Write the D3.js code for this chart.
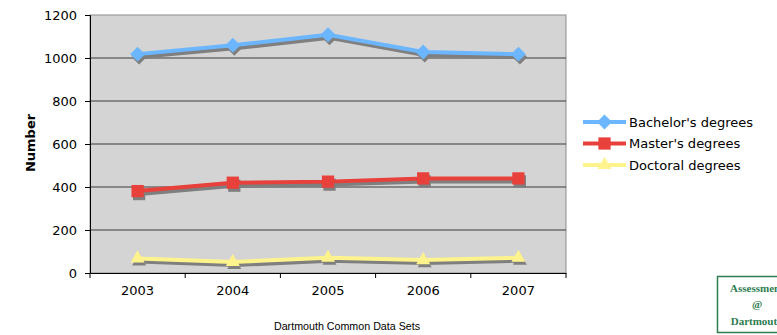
<!DOCTYPE html>
<html>
<head>
<meta charset="utf-8">
<script src="https://cdn.jsdelivr.net/npm/d3@7"></script>
<style>
  html, body { margin: 0; padding: 0; background: #fff; }
  svg { display: block; }
</style>
</head>
<body>
<svg id="chart" width="777" height="335"></svg>
<script>
// Degrees awarded per year
const years = ["2003", "2004", "2005", "2006", "2007"];
const bachelors = [1018, 1059, 1108, 1028, 1018];
const masters = [381, 420, 425, 440, 440];
const doctoral = [68, 51, 71, 60, 71];
const yTicks = [0, 200, 400, 600, 800, 1000, 1200];
const seriesNames = ["Bachelor's degrees", "Master's degrees", "Doctoral degrees"];

const svg = d3.select("#chart");
const plotLeft = 90, plotRight = 566, plotTop = 15, plotBottom = 273;

const x = d3.scaleBand().domain(years).range([plotLeft, plotRight]);
const y = d3.scaleLinear().domain([0, 1200]).range([plotBottom, plotTop]);

// Plot area
svg.append("rect")
  .attr("x", plotLeft).attr("y", plotTop)
  .attr("width", plotRight - plotLeft).attr("height", plotBottom - plotTop)
  .attr("fill", "#d4d4d4").attr("stroke", "#8c8c8c").attr("stroke-width", 1);

// Horizontal gridlines
svg.append("g").selectAll("line")
  .data(yTicks.filter(d => d > 0 && d < 1200))
  .join("line")
  .attr("x1", plotLeft).attr("x2", plotRight)
  .attr("y1", d => y(d)).attr("y2", d => y(d))
  .attr("stroke", "#3a3a3a").attr("stroke-width", 1);

// Y axis
const yAxis = svg.append("g")
  .attr("transform", `translate(${plotLeft},0)`)
  .call(d3.axisLeft(y).tickValues(yTicks).tickSize(5).tickPadding(8).tickFormat(d3.format("d")));
yAxis.select(".domain").attr("stroke", "#000");
yAxis.selectAll(".tick line").attr("stroke", "#000");
yAxis.selectAll("text")
  .attr("font-family", "Verdana, 'DejaVu Sans', sans-serif")
  .attr("font-size", 13).attr("fill", "#000");

// X axis with ticks between categories
const xAxis = svg.append("g")
  .attr("transform", `translate(0,${plotBottom})`)
  .call(d3.axisBottom(x).tickSize(0).tickPadding(13));
xAxis.select(".domain").attr("stroke", "#000");
xAxis.selectAll("text")
  .attr("font-family", "Verdana, 'DejaVu Sans', sans-serif")
  .attr("font-size", 13).attr("fill", "#000");
const edges = years.map(d => x(d)).concat([x(years[years.length - 1]) + x.bandwidth()]);
svg.append("g").selectAll("line")
  .data(edges)
  .join("line")
  .attr("x1", d => d).attr("x2", d => d)
  .attr("y1", plotBottom).attr("y2", plotBottom + 5)
  .attr("stroke", "#000");

// Axis title
svg.append("text")
  .attr("transform", "translate(35,143) rotate(-90)")
  .attr("text-anchor", "middle")
  .attr("font-family", "Verdana, 'DejaVu Sans', sans-serif")
  .attr("font-size", 13).attr("font-weight", "bold")
  .text("Number");

// Square diamond marker (a square turned 45 degrees)
const squareDiamond = {
  draw(context, size) {
    const r = Math.sqrt(size / 2);
    context.moveTo(0, -r);
    context.lineTo(r, 0);
    context.lineTo(0, r);
    context.lineTo(-r, 0);
    context.closePath();
  }
};

const series = [
  { name: seriesNames[0], values: bachelors, color: "#6cb6ff", shape: squareDiamond, size: 112 },
  { name: seriesNames[1], values: masters, color: "#e8403a", shape: d3.symbolSquare, size: 150 },
  { name: seriesNames[2], values: doctoral, color: "#fff38e", shape: d3.symbolTriangle, size: 85 }
];

const line = d3.line()
  .x((d, i) => x(years[i]) + x.bandwidth() / 2)
  .y(d => y(d));

// Drop shadows first
series.forEach(s => {
  const g = svg.append("g").attr("transform", "translate(1.5,3)");
  g.append("path").datum(s.values)
    .attr("d", line).attr("fill", "none")
    .attr("stroke", "#7f7f7f").attr("stroke-width", 4).attr("stroke-linejoin", "round");
  g.selectAll("path.m").data(s.values).join("path")
    .attr("class", "m")
    .attr("transform", (d, i) => `translate(${x(years[i]) + x.bandwidth() / 2},${y(d)})`)
    .attr("d", d3.symbol(s.shape, s.size)).attr("fill", "#7f7f7f");
});

// Series lines and markers
series.forEach(s => {
  const g = svg.append("g");
  g.append("path").datum(s.values)
    .attr("d", line).attr("fill", "none")
    .attr("stroke", s.color).attr("stroke-width", 4).attr("stroke-linejoin", "round");
  g.selectAll("path.m").data(s.values).join("path")
    .attr("class", "m")
    .attr("transform", (d, i) => `translate(${x(years[i]) + x.bandwidth() / 2},${y(d)})`)
    .attr("d", d3.symbol(s.shape, s.size)).attr("fill", s.color);
});

// Legend
const legend = svg.append("g");
series.forEach((s, i) => {
  const ly = 122 + i * 21.5;
  legend.append("line")
    .attr("x1", 583).attr("x2", 626).attr("y1", ly).attr("y2", ly)
    .attr("stroke", s.color).attr("stroke-width", 4);
  legend.append("path")
    .attr("transform", `translate(604.5,${ly})`)
    .attr("d", d3.symbol(s.shape, s.size)).attr("fill", s.color);
  legend.append("text")
    .attr("x", 629).attr("y", ly).attr("dy", "0.35em")
    .attr("font-family", "Verdana, 'DejaVu Sans', sans-serif")
    .attr("font-size", 13).attr("fill", "#000")
    .text(s.name);
});

// Source note
svg.append("text")
  .attr("x", 347).attr("y", 330)
  .attr("text-anchor", "middle")
  .attr("font-family", "Arial, 'Liberation Sans', sans-serif")
  .attr("font-size", 10.7).attr("fill", "#000")
  .text("Dartmouth Common Data Sets");

// Office badge (runs off the right edge of the page)
const badge = svg.append("g");
badge.append("rect")
  .attr("x", 717.5).attr("y", 276.5).attr("width", 80).attr("height", 56)
  .attr("fill", "#fff").attr("stroke", "#2e7d4f").attr("stroke-width", 1.5);
[["Assessment", 292], ["@", 308], ["Dartmouth", 325]].forEach(([t, ty]) => {
  badge.append("text")
    .attr("x", 757).attr("y", ty).attr("text-anchor", "middle")
    .attr("font-family", "'Liberation Serif', 'Times New Roman', serif")
    .attr("font-size", 11).attr("font-weight", "bold").attr("fill", "#2e7d4f")
    .text(t);
});
</script>
</body>
</html>
